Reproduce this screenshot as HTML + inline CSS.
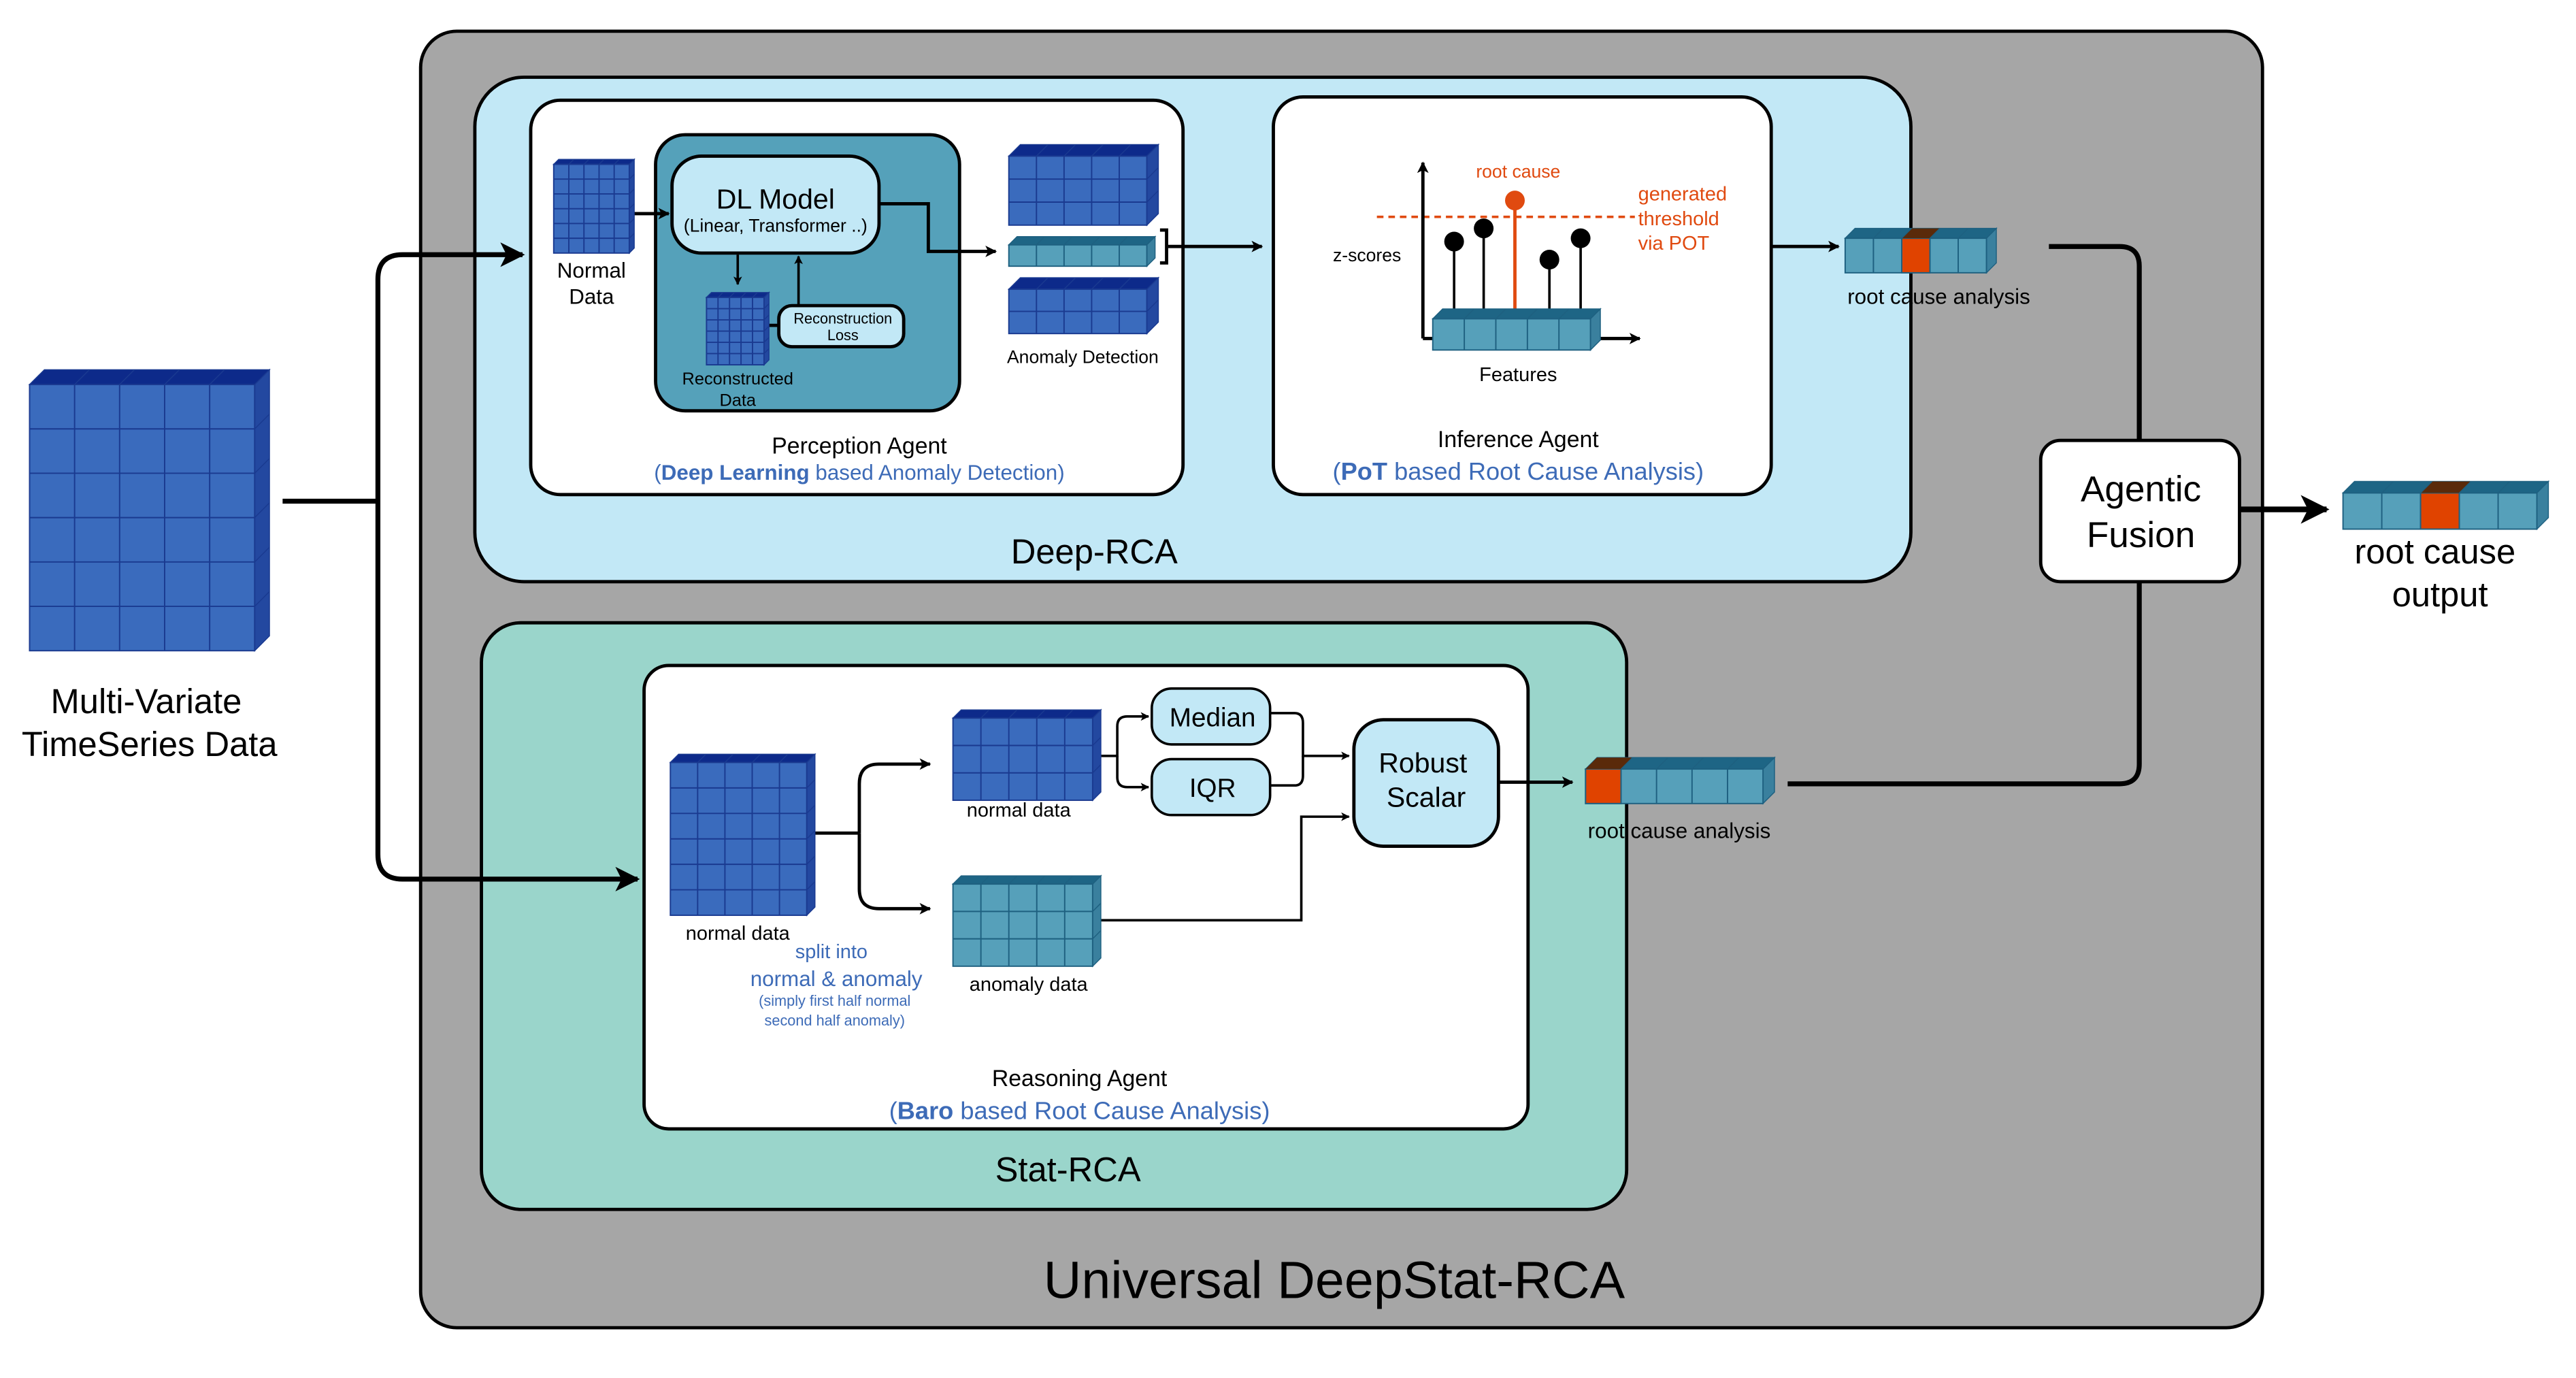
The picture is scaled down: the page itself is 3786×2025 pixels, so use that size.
<!DOCTYPE html>
<html><head><meta charset="utf-8"><style>
html,body{margin:0;padding:0;background:#fff;}
svg{display:block;}
text{font-family:"Liberation Sans",sans-serif;}
</style></head><body>
<svg id="s" width="3786" height="2025" viewBox="0 0 1567.8 838.6" preserveAspectRatio="none" xmlns="http://www.w3.org/2000/svg">
<defs>
<marker id="a" viewBox="0 0 10 10" refX="9" refY="5" markerWidth="5" markerHeight="5" orient="auto" markerUnits="strokeWidth"><path d="M0,0 L10,5 L0,10 L2.5,5 z" fill="#000"/></marker>
<marker id="b" viewBox="0 0 10 10" refX="9" refY="5" markerWidth="3.5" markerHeight="3.5" orient="auto" markerUnits="strokeWidth"><path d="M0,0 L10,5 L0,10 L2.5,5 z" fill="#000"/></marker>
</defs>
<rect width="1567.8" height="838.6" fill="#fff"/>
<!-- outer -->
<rect x="256" y="19" width="1121" height="789" rx="22" fill="#a6a6a6" stroke="#000" stroke-width="2"/>
<text x="812" y="790" font-size="32" text-anchor="middle">Universal DeepStat-RCA</text>
<!-- deep rca -->
<rect x="289" y="47" width="874" height="307" rx="30" fill="#c2e8f6" stroke="#000" stroke-width="2"/>
<text x="666" y="343" font-size="21" text-anchor="middle">Deep-RCA</text>
<rect x="323" y="61" width="397" height="240" rx="18" fill="#fff" stroke="#000" stroke-width="2"/>
<rect x="399" y="82" width="185" height="168" rx="18" fill="#55a1ba" stroke="#000" stroke-width="2"/>
<rect x="409" y="95" width="126" height="59" rx="18" fill="#c2e8f6" stroke="#000" stroke-width="2"/>
<text x="472" y="127" font-size="17" text-anchor="middle">DL Model</text>
<text x="472" y="141" font-size="11" text-anchor="middle">(Linear, Transformer ..)</text>
<text x="360" y="169" font-size="13" text-anchor="middle">Normal</text>
<text x="360" y="185" font-size="13" text-anchor="middle">Data</text>
<line x1="386" y1="130" x2="407" y2="130" stroke="#000" stroke-width="2" marker-end="url(#b)"/>
<text x="449" y="234" font-size="10.5" text-anchor="middle">Reconstructed</text>
<text x="449" y="247" font-size="10.5" text-anchor="middle">Data</text>
<line x1="466" y1="198" x2="474" y2="198" stroke="#000" stroke-width="2"/>
<rect x="474" y="186" width="76" height="25" rx="8" fill="#c2e8f6" stroke="#000" stroke-width="2"/>
<text x="513" y="197" font-size="9" text-anchor="middle">Reconstruction</text>
<text x="513" y="207" font-size="9" text-anchor="middle">Loss</text>
<line x1="449" y1="155" x2="449" y2="173" stroke="#000" stroke-width="1.5" marker-end="url(#b)"/>
<line x1="486" y1="186" x2="486" y2="156" stroke="#000" stroke-width="1.5" marker-end="url(#b)"/>
<path d="M535,124 H565 V153 H606" fill="none" stroke="#000" stroke-width="2" marker-end="url(#b)"/>
<path d="M706,140 h4 v20 h-4" fill="none" stroke="#000" stroke-width="2"/>
<line x1="711" y1="150" x2="768" y2="150" stroke="#000" stroke-width="2" marker-end="url(#b)"/>
<text x="659" y="221" font-size="11" text-anchor="middle">Anomaly Detection</text>
<text x="523" y="276" font-size="14" text-anchor="middle">Perception Agent</text>
<text x="523" y="292" font-size="13" text-anchor="middle" fill="#3d6bb7">(<tspan font-weight="bold">Deep Learning</tspan> based Anomaly Detection)</text>
<!-- inference -->
<rect x="775" y="59" width="303" height="242" rx="18" fill="#fff" stroke="#000" stroke-width="2"/>
<line x1="838" y1="132" x2="995" y2="132" stroke="#e04a10" stroke-width="1.5" stroke-dasharray="4,3"/>
<line x1="866" y1="206" x2="866" y2="99" stroke="#000" stroke-width="2" marker-end="url(#b)"/>
<line x1="866" y1="206" x2="998" y2="206" stroke="#000" stroke-width="2" marker-end="url(#b)"/>
<g stroke="#000" stroke-width="1.5"><line x1="885" y1="147" x2="885" y2="192"/><line x1="903" y1="139" x2="903" y2="192"/><line x1="943" y1="158" x2="943" y2="192"/><line x1="962" y1="145" x2="962" y2="192"/></g>
<line x1="922" y1="122" x2="922" y2="192" stroke="#e04a10" stroke-width="2"/>
<g fill="#000"><circle cx="885" cy="147" r="6"/><circle cx="903" cy="139" r="6"/><circle cx="943" cy="158" r="6"/><circle cx="962" cy="145" r="6"/></g>
<circle cx="922" cy="122" r="6" fill="#e04a10"/>
<text x="924" y="108" font-size="11" text-anchor="middle" fill="#e04a10">root cause</text>
<g font-size="12" fill="#e04a10"><text x="997" y="122">generated</text><text x="997" y="137">threshold</text><text x="997" y="152">via POT</text></g>
<text x="832" y="159" font-size="11" text-anchor="middle">z-scores</text>
<text x="924" y="232" font-size="12" text-anchor="middle">Features</text>
<text x="924" y="272" font-size="14" text-anchor="middle">Inference Agent</text>
<text x="924" y="292" font-size="15" text-anchor="middle" fill="#3d6bb7">(<tspan font-weight="bold">PoT</tspan> based Root Cause Analysis)</text>
<line x1="1078" y1="150" x2="1119" y2="150" stroke="#000" stroke-width="2" marker-end="url(#b)"/>
<text x="1180" y="185" font-size="13" text-anchor="middle">root cause analysis</text>
<!-- connectors right -->
<path d="M1247,150 H1290 Q1302,150 1302,162 V268" fill="none" stroke="#000" stroke-width="3"/>
<path d="M1302,354 V465 Q1302,477 1290,477 H1088" fill="none" stroke="#000" stroke-width="3"/>
<rect x="1242" y="268" width="121" height="86" rx="12" fill="#fff" stroke="#000" stroke-width="2"/>
<text x="1303" y="305" font-size="22" text-anchor="middle">Agentic</text>
<text x="1303" y="333" font-size="22" text-anchor="middle">Fusion</text>
<line x1="1363" y1="310" x2="1416" y2="310" stroke="#000" stroke-width="3.5" marker-end="url(#a)"/>
<text x="1482" y="343" font-size="21" text-anchor="middle">root cause</text>
<text x="1485" y="369" font-size="21" text-anchor="middle">output</text>
<!-- left -->
<text x="89" y="434" font-size="21" text-anchor="middle">Multi-Variate</text>
<text x="91" y="460" font-size="21" text-anchor="middle">TimeSeries Data</text>
<!-- stat rca -->
<rect x="293" y="379" width="697" height="357" rx="24" fill="#9ad5cb" stroke="#000" stroke-width="2"/>
<text x="650" y="719" font-size="21" text-anchor="middle">Stat-RCA</text>
<rect x="392" y="405" width="538" height="282" rx="15" fill="#fff" stroke="#000" stroke-width="2"/>
<path d="M172,305 H230" fill="none" stroke="#000" stroke-width="3"/>
<path d="M230,305 V170 Q230,155 245,155 H318" fill="none" stroke="#000" stroke-width="3" marker-end="url(#a)"/>
<path d="M230,305 V520 Q230,535 245,535 H388" fill="none" stroke="#000" stroke-width="3" marker-end="url(#a)"/>
<text x="449" y="572" font-size="12" text-anchor="middle">normal data</text>
<text x="620" y="497" font-size="12" text-anchor="middle">normal data</text>
<text x="626" y="603" font-size="12" text-anchor="middle">anomaly data</text>
<path d="M494,507 H523" fill="none" stroke="#000" stroke-width="2"/>
<path d="M523,507 V477 Q523,465 535,465 H566" fill="none" stroke="#000" stroke-width="2" marker-end="url(#b)"/>
<path d="M523,507 V541 Q523,553 535,553 H566" fill="none" stroke="#000" stroke-width="2" marker-end="url(#b)"/>
<path d="M668,460 H680 V442 Q680,436 686,436 H699" fill="none" stroke="#000" stroke-width="1.5" marker-end="url(#b)"/>
<path d="M680,460 V473 Q680,479 686,479 H699" fill="none" stroke="#000" stroke-width="1.5" marker-end="url(#b)"/>
<path d="M773,434 H788 Q793,434 793,440 V460 H821" fill="none" stroke="#000" stroke-width="1.5" marker-end="url(#b)"/>
<path d="M773,478 H788 Q793,478 793,472 V460" fill="none" stroke="#000" stroke-width="1.5"/>
<path d="M668,560 H792 V497 H821" fill="none" stroke="#000" stroke-width="1.5" marker-end="url(#b)"/>
<rect x="701" y="419" width="72" height="34" rx="12" fill="#c2e8f6" stroke="#000" stroke-width="1.5"/>
<text x="738" y="442" font-size="16" text-anchor="middle">Median</text>
<rect x="701" y="462" width="72" height="34" rx="12" fill="#c2e8f6" stroke="#000" stroke-width="1.5"/>
<text x="738" y="485" font-size="16" text-anchor="middle">IQR</text>
<rect x="824" y="438" width="88" height="77" rx="18" fill="#c2e8f6" stroke="#000" stroke-width="2"/>
<text x="866" y="470" font-size="17" text-anchor="middle">Robust</text>
<text x="868" y="491" font-size="17" text-anchor="middle">Scalar</text>
<line x1="912" y1="476" x2="957" y2="476" stroke="#000" stroke-width="2" marker-end="url(#b)"/>
<text x="1022" y="510" font-size="13" text-anchor="middle">root cause analysis</text>
<g fill="#3d6bb7" text-anchor="middle"><text x="506" y="583" font-size="12">split into</text><text x="509" y="600" font-size="13">normal &amp; anomaly</text><text x="508" y="612" font-size="9">(simply first half normal</text><text x="508" y="624" font-size="9">second half anomaly)</text></g>
<text x="657" y="661" font-size="14" text-anchor="middle">Reasoning Agent</text>
<text x="657" y="681" font-size="15" text-anchor="middle" fill="#3d6bb7">(<tspan font-weight="bold">Baro</tspan> based Root Cause Analysis)</text>
<g id="cubes"></g>
</svg>
<script>
var B={f:"#3a6bbd",t:"#0d2a8a",s:"#2348a0",l:"#1a3a90"},T={f:"#56a0ba",t:"#1e6585",s:"#3a809e",l:"#1e6080"};
var out="";
function cube(x,y,w,h,c,r,d,C,hi){
 out+='<polygon points="'+x+','+y+' '+(x+d)+','+(y-d)+' '+(x+w+d)+','+(y-d)+' '+(x+w)+','+y+'" fill="'+C.t+'" stroke="'+C.l+'" stroke-width="0.6"/>';
 out+='<polygon points="'+(x+w)+','+y+' '+(x+w+d)+','+(y-d)+' '+(x+w+d)+','+(y+h-d)+' '+(x+w)+','+(y+h)+'" fill="'+C.s+'" stroke="'+C.l+'" stroke-width="0.6"/>';
 out+='<rect x="'+x+'" y="'+y+'" width="'+w+'" height="'+h+'" fill="'+C.f+'" stroke="'+C.l+'" stroke-width="0.8"/>';
 var cw=w/c,rh=h/r;
 if(hi!=null){out+='<rect x="'+(x+hi*cw)+'" y="'+y+'" width="'+cw+'" height="'+h+'" fill="#e04300" stroke="'+C.l+'" stroke-width="0.8"/>';
  out+='<polygon points="'+(x+hi*cw)+','+y+' '+(x+hi*cw+d)+','+(y-d)+' '+(x+(hi+1)*cw+d)+','+(y-d)+' '+(x+(hi+1)*cw)+','+y+'" fill="#5a2a0a"/>';}
 for(var i=1;i<c;i++){out+='<line x1="'+(x+i*cw)+'" y1="'+y+'" x2="'+(x+i*cw)+'" y2="'+(y+h)+'" stroke="'+C.l+'" stroke-width="0.8"/>';
  out+='<line x1="'+(x+i*cw)+'" y1="'+y+'" x2="'+(x+i*cw+d)+'" y2="'+(y-d)+'" stroke="'+C.l+'" stroke-width="0.6"/>';}
 for(var j=1;j<r;j++){out+='<line x1="'+x+'" y1="'+(y+j*rh)+'" x2="'+(x+w)+'" y2="'+(y+j*rh)+'" stroke="'+C.l+'" stroke-width="0.8"/>';
  out+='<line x1="'+(x+w)+'" y1="'+(y+j*rh)+'" x2="'+(x+w+d)+'" y2="'+(y+j*rh-d)+'" stroke="'+C.l+'" stroke-width="0.6"/>';}
}
cube(18,234,137,162,5,6,9,B);
cube(337,100,46,54,5,6,3,B);
cube(430,181,35,41,5,6,3,B);
cube(614,95,84,42,5,3,7,B);
cube(614,149,84,13,5,1,5,T);
cube(614,176,84,27,5,2,7,B);
cube(872,194,96,19,5,1,6,T);
cube(1123,145,86,21,5,1,6,T,2);
cube(1426,300,118,22,5,1,7,T,2);
cube(408,464,83,93,5,6,5,B);
cube(580,437,85,50,5,3,5,B);
cube(580,538,85,50,5,3,5,T);
cube(965,468,108,21,5,1,7,T,0);
document.getElementById("cubes").innerHTML=out;
</script>
</body></html>
